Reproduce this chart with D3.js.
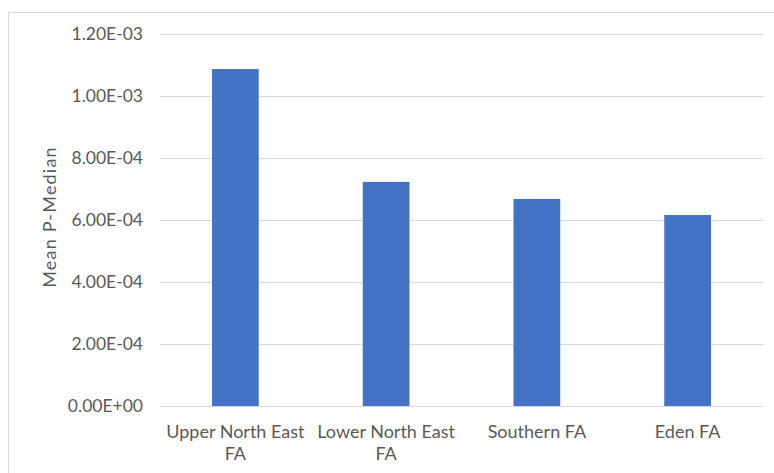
<!DOCTYPE html>
<html>
<head>
<meta charset="utf-8">
<script src="https://cdn.jsdelivr.net/npm/d3@7"></script>
<style>
  html, body { margin: 0; padding: 0; background: #fff; }
  svg { display: block; }
  text { font-family: Lato, "Open Sans", sans-serif; fill: #595959; }
</style>
</head>
<body>
<svg id="chart" width="774" height="473"></svg>
<script>
// Mean P-Median by fishing area
const categories = ["Upper North East FA", "Lower North East FA", "Southern FA", "Eden FA"];
const categoryLines = [["Upper North East", "FA"], ["Lower North East", "FA"], ["Southern FA"], ["Eden FA"]];
const values = [1.087e-3, 7.23e-4, 6.68e-4, 6.16e-4];
const yTicks = [0, 2e-4, 4e-4, 6e-4, 8e-4, 1.0e-3, 1.2e-3];
const yTickLabels = ["0.00E+00", "2.00E-04", "4.00E-04", "6.00E-04", "8.00E-04", "1.00E-03", "1.20E-03"];

const svg = d3.select("#chart");
const W = 774, H = 473;
const plot = { left: 160, right: 763, top: 34, bottom: 406 };

// outer frame (runs past the right and bottom edges)
svg.append("rect")
  .attr("x", 8.5).attr("y", 12.5)
  .attr("width", W + 10).attr("height", H + 10)
  .attr("fill", "#fff").attr("stroke", "#d9d9d9").attr("stroke-width", 1.2);

const x = d3.scaleBand().domain(categories).range([plot.left, plot.right]).paddingInner(0.69).paddingOuter(0.345);
const y = d3.scaleLinear().domain([0, 1.2e-3]).range([plot.bottom, plot.top]);

// gridlines
svg.append("g").selectAll("line").data(yTicks).join("line")
  .attr("x1", plot.left).attr("x2", plot.right)
  .attr("y1", d => Math.round(y(d)) + 0.5).attr("y2", d => Math.round(y(d)) + 0.5)
  .attr("stroke", "#d9d9d9").attr("stroke-width", 1);

// y tick labels
const yAxis = d3.axisLeft(y).tickValues(yTicks)
  .tickFormat((d, i) => yTickLabels[i]).tickSize(0).tickPadding(17);
const gy = svg.append("g").attr("transform", `translate(${plot.left},0)`).call(yAxis);
gy.select(".domain").remove();
gy.selectAll("text").attr("font-size", "17.5px").style("font-family", "Lato, sans-serif").attr("fill", "#595959");

// bars
svg.append("g").selectAll("rect").data(values).join("rect")
  .attr("x", (d, i) => x(categories[i]))
  .attr("width", x.bandwidth())
  .attr("y", d => y(d))
  .attr("height", d => y(0) - y(d))
  .attr("fill", "#4472c4");

// category labels
const xl = svg.append("g").selectAll("text").data(categories).join("text")
  .attr("text-anchor", "middle")
  .attr("font-size", "18px")
  .attr("x", d => x(d) + x.bandwidth() / 2)
  .attr("y", 438);
xl.each(function(d, i) {
  const t = d3.select(this);
  categoryLines[i].forEach((line, j) => {
    t.append("tspan").attr("x", x(d) + x.bandwidth() / 2).attr("dy", j === 0 ? 0 : 22).text(line);
  });
});

// y axis title
svg.append("text")
  .attr("transform", `translate(56,217) rotate(-90)`)
  .attr("text-anchor", "middle")
  .attr("font-size", "18px")
  .attr("letter-spacing", "1.2px")
  .text("Mean P-Median");
</script>
</body>
</html>
